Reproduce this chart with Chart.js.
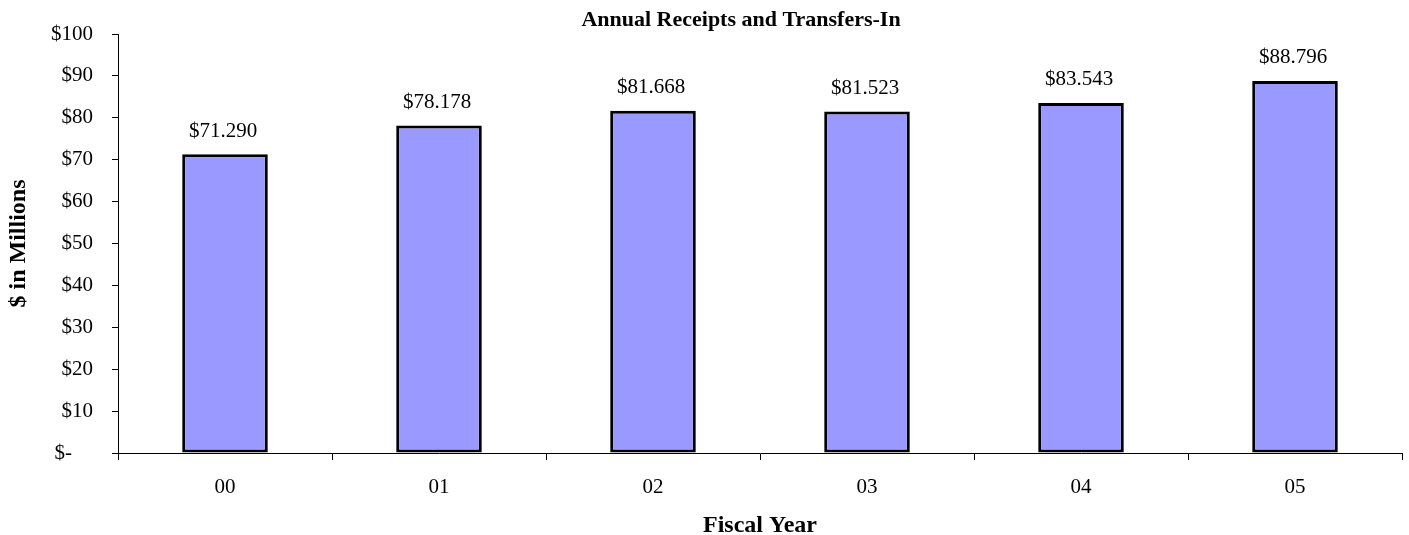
<!DOCTYPE html>
<html>
<head>
<meta charset="utf-8">
<script src="https://cdn.jsdelivr.net/npm/chart.js@4/dist/chart.umd.min.js"></script>
<style>
  html, body { margin: 0; padding: 0; background: #fff; }
  #wrap { width: 1409px; height: 535px; position: relative; }
</style>
</head>
<body>
<div id="wrap"><canvas id="c"></canvas></div>
<script>
const chartTitle = "Annual Receipts and Transfers-In";
const categories = ["00", "01", "02", "03", "04", "05"];
const receipts = [71.290, 78.178, 81.668, 81.523, 83.543, 88.796];
const yTickMin = 0;
const yTickMax = 100;
const yTickStep = 10;
const xAxisTitle = "Fiscal Year";
const yAxisTitle = "$ in Millions";

const SERIF = "'Liberation Serif', 'Times New Roman', serif";

const titlePlugin = {
  id: 'customTitle',
  afterDraw(chart) {
    const ctx = chart.ctx;
    ctx.save();
    ctx.font = "bold 22px " + SERIF;
    ctx.fillStyle = "#000";
    ctx.textAlign = "center";
    ctx.textBaseline = "middle";
    ctx.fillText(chartTitle, 741, 20);
    ctx.restore();
  }
};

const labelPlugin = {
  id: 'barLabels',
  afterDatasetsDraw(chart) {
    const ctx = chart.ctx;
    const meta = chart.getDatasetMeta(0);
    ctx.save();
    ctx.font = "21px " + SERIF;
    ctx.fillStyle = "#000";
    ctx.textAlign = "center";
    ctx.textBaseline = "middle";
    meta.data.forEach((bar, i) => {
      const v = chart.data.datasets[0].data[i];
      ctx.fillText("$" + v.toFixed(3), bar.x - 2, bar.y - 23);
    });
    ctx.restore();
  }
};

new Chart(document.getElementById('c'), {
  type: 'bar',
  data: {
    labels: categories,
    datasets: [{
      data: receipts,
      backgroundColor: '#9999FF',
      borderColor: '#000000',
      borderWidth: 3,
      borderSkipped: false,
      barPercentage: 0.4,
      categoryPercentage: 1.0
    }]
  },
  options: {
    responsive: true,
    maintainAspectRatio: false,
    animation: false,
    events: [],
    layout: { padding: { top: 34, right: 7, left: 0, bottom: 0 } },
    plugins: {
      legend: { display: false },
      tooltip: { enabled: false },
      title: { display: false }
    },
    scales: {
      x: {
        grid: {
          offset: true,
          drawOnChartArea: false,
          drawTicks: true,
          tickLength: 7,
          color: '#000'
        },
        border: { display: true, color: '#000', width: 1 },
        ticks: {
          color: '#000',
          font: { family: SERIF, size: 21 },
          padding: 15,
          maxRotation: 0
        },
        title: {
          display: true,
          text: xAxisTitle,
          color: '#000',
          font: { family: SERIF, size: 24, weight: 'bold', lineHeight: 0.8 },
          padding: { top: 0, bottom: 0 }
        },
        afterFit(scale) { scale.height = 82; }
      },
      y: {
        min: yTickMin,
        max: yTickMax,
        grid: {
          drawOnChartArea: false,
          drawTicks: true,
          tickLength: 6,
          color: '#000'
        },
        border: { display: true, color: '#000', width: 1 },
        ticks: {
          stepSize: yTickStep,
          color: '#000',
          font: { family: SERIF, size: 21 },
          padding: 19,
          callback: (v) => v === 0 ? "$-    " : "$" + v
        },
        title: {
          display: true,
          text: yAxisTitle,
          color: '#000',
          font: { family: SERIF, size: 24, weight: 'bold', lineHeight: 1 },
          padding: { top: 7, bottom: 0 }
        },
        afterFit(scale) { scale.width = 118; }
      }
    }
  },
  plugins: [titlePlugin, labelPlugin]
});
</script>
</body>
</html>
